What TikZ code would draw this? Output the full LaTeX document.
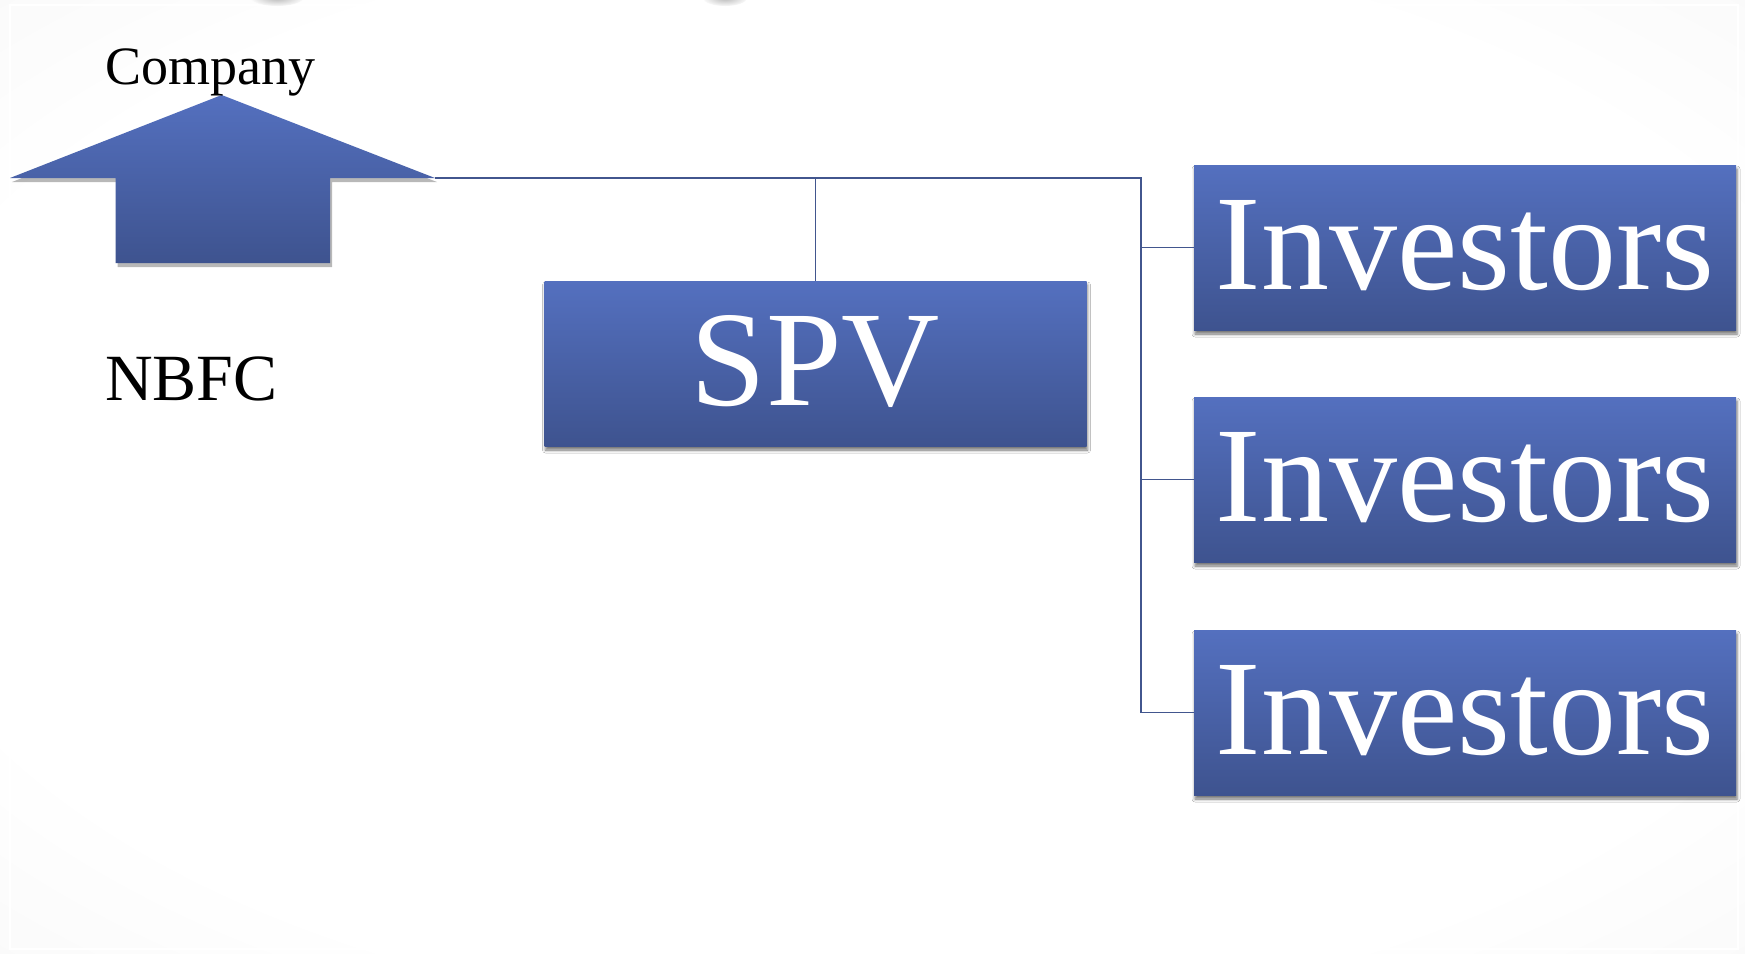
\documentclass[tikz,border=0pt]{standalone}
\usepackage{fontspec}
\setmainfont{Liberation Serif}
\usetikzlibrary{shadows.blur,calc}

\definecolor{boxtop}{RGB}{84,112,191}
\definecolor{boxbot}{RGB}{62,83,143}
\definecolor{linkcol}{RGB}{66,86,142}

\pgfdeclareradialshading{slidebg}{\pgfpoint{0bp}{0bp}}{%
  color(0bp)=(white); color(28bp)=(white); color(50bp)=(gray!11); color(72bp)=(gray!22)}

\tikzset{
  bluebox/.style={rectangle, inner sep=0pt, minimum width=542pt, minimum height=165pt,
    top color=boxtop, bottom color=boxbot, draw=none, text=white,
    font=\fontsize{136pt}{140pt}\selectfont, text depth=6pt,
    blur shadow={shadow xshift=1pt, shadow yshift=-4pt, shadow blur radius=3pt, shadow opacity=55}},
  link/.style={draw=linkcol, line width=1.8pt},
  plain/.style={inner sep=0pt, text=black},
}

\begin{document}
\begin{tikzpicture}[x=1pt, y=-1pt]
  % slide background
  \useasboundingbox (0,0) rectangle (1745,953);
  \shade[shading=slidebg] (0,0) rectangle (1745,953);
  \draw[white, line width=1.2pt] (10,5) rectangle (1738,949);
  \shade[inner color=gray!55, outer color=gray!4] (277,-2) ellipse [x radius=26, y radius=8];
  \shade[inner color=gray!55, outer color=gray!4] (725,-2) ellipse [x radius=22, y radius=8];

  % company / NBFC block arrow
  \fill[black, opacity=0.28] (12,182) -- (221.7,99) -- (437,182) -- (332,182) -- (332,267) -- (117.7,267) -- (117.7,182) -- cycle;
  \shade[top color=boxtop, bottom color=boxbot]
    (10,178) -- (221.7,95) -- (435,178) -- (330,178) -- (330,263) -- (115.7,263) -- (115.7,178) -- cycle;
  \coordinate (hr) at (435,178);

  \node[plain, anchor=base west, font=\fontsize{54pt}{58pt}\selectfont] (company) at (105,84) {Company};
  \node[plain, anchor=base west, font=\fontsize{66pt}{70pt}\selectfont] (nbfc) at (105,400) {NBFC};

  % boxes
  \node[bluebox] (spv)  at (815.5,363.5) {SPV};
  \node[bluebox] (inv1) at (1465,247.5) {Investors};
  \node[bluebox] (inv2) at (1465,479.5) {Investors};
  \node[bluebox] (inv3) at (1465,712.5) {Investors};

  % connectors
  \coordinate (jn) at (1141,178);
  \draw[link] (hr) -- (jn) -- (jn |- inv3.west) -- (inv3.west);
  \draw[link] (jn |- inv1.west) -- (inv1.west);
  \draw[link] (jn |- inv2.west) -- (inv2.west);
  \draw[link] (spv.north) -- (spv.north |- hr);
\end{tikzpicture}
\end{document}
